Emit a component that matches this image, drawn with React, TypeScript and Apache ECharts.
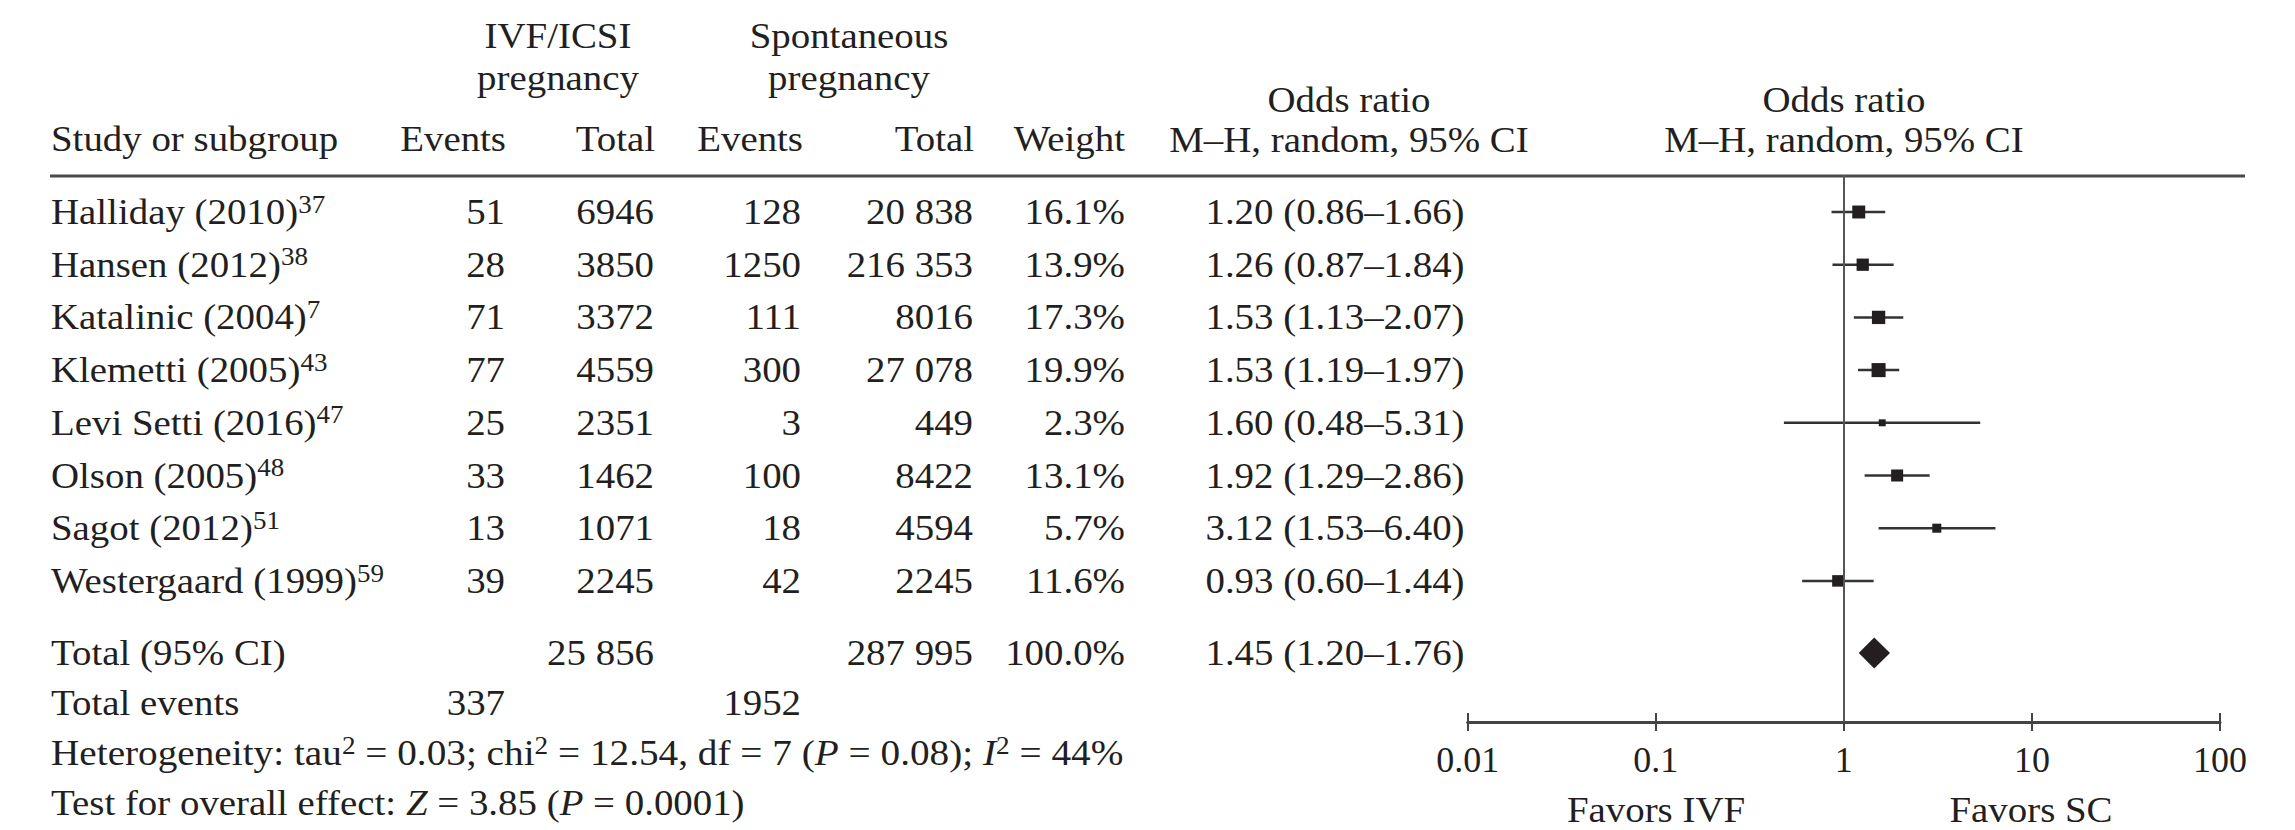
import React, { useEffect, useRef } from 'react';
import * as echarts from 'echarts';

// ---------------- data ----------------
const studies = [
  'Halliday (2010)',
  'Hansen (2012)',
  'Katalinic (2004)',
  'Klemetti (2005)',
  'Levi Setti (2016)',
  'Olson (2005)',
  'Sagot (2012)',
  'Westergaard (1999)',
];
const refs = ['37', '38', '7', '43', '47', '48', '51', '59'];
const ivfEvents = [51, 28, 71, 77, 25, 33, 13, 39];
const ivfTotal = [6946, 3850, 3372, 4559, 2351, 1462, 1071, 2245];
const scEvents = [128, 1250, 111, 300, 3, 100, 18, 42];
const scTotal = [20838, 216353, 8016, 27078, 449, 8422, 4594, 2245];
const weights = [16.1, 13.9, 17.3, 19.9, 2.3, 13.1, 5.7, 11.6];
const oddsRatio = [1.2, 1.26, 1.53, 1.53, 1.6, 1.92, 3.12, 0.93];
const ciLow = [0.86, 0.87, 1.13, 1.19, 0.48, 1.29, 1.53, 0.6];
const ciHigh = [1.66, 1.84, 2.07, 1.97, 5.31, 2.86, 6.4, 1.44];

const totalIvf = 25856;
const totalSc = 287995;
const totalWeight = 100.0;
const totalOR = [1.45, 1.2, 1.76]; // estimate, low, high
const totalEvents = [337, 1952]; // IVF, spontaneous
const axisTicks = [0.01, 0.1, 1, 10, 100];

// ---------------- layout ----------------
const W = 2295;
const H = 830;
const FONT = "'Liberation Serif', 'Times New Roman', serif";
const INK = '#231f20';
const FS = 36;
const SX = 1.08; // horizontal stretch to match the reference typeface width
const ROW0_Y = 212;
const ROW_PITCH = 52.7;
const TOTAL_ROW = 8.37;
const EVENTS_ROW = 9.32;
const PLOT_TOP = 175;
const PLOT_AXIS_Y = 722;
const PLOT_LEFT = 1467.7;
const PLOT_RIGHT = 2220;
const COL = {
  name: 51,
  ivfEvents: 505,
  ivfTotal: 654,
  scEvents: 801,
  scTotal: 973,
  weight: 1125,
  or: 1335,
};

function fmtCount(n: number): string {
  const s = String(n);
  return s.length > 4 ? s.replace(/\B(?=(\d{3})+(?!\d))/g, ' ') : s;
}
function fmtOR(e: number, l: number, h: number): string {
  return `${e.toFixed(2)} (${l.toFixed(2)}–${h.toFixed(2)})`;
}

type Cell = { x: number; row: number; text: string; align: string };

function buildCells(): Cell[] {
  const cells: Cell[] = [];
  studies.forEach((s, i) => {
    cells.push({ x: COL.name, row: i, text: `${s}{sup|${refs[i]}}`, align: 'left' });
    cells.push({ x: COL.ivfEvents, row: i, text: fmtCount(ivfEvents[i]), align: 'right' });
    cells.push({ x: COL.ivfTotal, row: i, text: fmtCount(ivfTotal[i]), align: 'right' });
    cells.push({ x: COL.scEvents, row: i, text: fmtCount(scEvents[i]), align: 'right' });
    cells.push({ x: COL.scTotal, row: i, text: fmtCount(scTotal[i]), align: 'right' });
    cells.push({ x: COL.weight, row: i, text: `${weights[i].toFixed(1)}%`, align: 'right' });
    cells.push({ x: COL.or, row: i, text: fmtOR(oddsRatio[i], ciLow[i], ciHigh[i]), align: 'center' });
  });
  cells.push({ x: COL.name, row: TOTAL_ROW, text: 'Total (95% CI)', align: 'left' });
  cells.push({ x: COL.ivfTotal, row: TOTAL_ROW, text: fmtCount(totalIvf), align: 'right' });
  cells.push({ x: COL.scTotal, row: TOTAL_ROW, text: fmtCount(totalSc), align: 'right' });
  cells.push({ x: COL.weight, row: TOTAL_ROW, text: `${totalWeight.toFixed(1)}%`, align: 'right' });
  cells.push({ x: COL.or, row: TOTAL_ROW, text: fmtOR(totalOR[0], totalOR[1], totalOR[2]), align: 'center' });
  cells.push({ x: COL.name, row: EVENTS_ROW, text: 'Total events', align: 'left' });
  cells.push({ x: COL.ivfEvents, row: EVENTS_ROW, text: fmtCount(totalEvents[0]), align: 'right' });
  cells.push({ x: COL.scEvents, row: EVENTS_ROW, text: fmtCount(totalEvents[1]), align: 'right' });
  return cells;
}

const richStyles = {
  sup: { fontSize: 25, fontFamily: FONT, fill: INK, color: INK, verticalAlign: 'top', lineHeight: 24 },
  it: { fontSize: FS, fontFamily: FONT, fill: INK, color: INK, fontStyle: 'italic', lineHeight: 40 },
};

function headerText(text: string, x: number, y: number, align: string, lineHeight = 40, sx = SX) {
  return {
    type: 'text',
    x,
    y,
    scaleX: sx,
    silent: true,
    style: {
      text,
      align,
      verticalAlign: 'middle',
      fontFamily: FONT,
      fontSize: FS,
      lineHeight,
      fill: INK,
      rich: richStyles,
    },
  };
}

function buildOption() {
  const cells = buildCells();
  const forestData = studies.map((_, i) => [oddsRatio[i], ciLow[i], ciHigh[i], i, weights[i]]);

  const headers = [
    headerText('IVF/ICSI', 558, 36, 'center'),
    headerText('pregnancy', 558, 78, 'center'),
    headerText('Spontaneous', 849, 36, 'center'),
    headerText('pregnancy', 849, 78, 'center'),
    headerText('Study or subgroup', COL.name, 139, 'left'),
    headerText('Events', COL.ivfEvents + 1, 139, 'right'),
    headerText('Total', COL.ivfTotal + 1, 139, 'right'),
    headerText('Events', COL.scEvents + 2, 139, 'right'),
    headerText('Total', COL.scTotal + 1, 139, 'right'),
    headerText('Weight', COL.weight, 139, 'right'),
    headerText('Odds ratio', 1349, 100, 'center'),
    headerText('M–H, random, 95% CI', 1349, 140, 'center'),
    headerText('Odds ratio', 1844, 100, 'center'),
    headerText('M–H, random, 95% CI', 1844, 140, 'center'),
    headerText('Favors IVF', 1656, 810, 'center', 34),
    headerText('Favors SC', 2031, 810, 'center', 34),
    headerText(
      'Heterogeneity: tau{sup|2} = 0.03; chi{sup|2} = 12.54, df = 7 ({it|P} = 0.08); {it|I}{sup|2} = 44%',
      COL.name,
      753,
      'left',
      40,
      1.09
    ),
    headerText('Test for overall effect: {it|Z} = 3.85 ({it|P} = 0.0001)', COL.name, 803, 'left', 40, 1.08),
    {
      type: 'line',
      silent: true,
      shape: { x1: 50, y1: 176, x2: 2245, y2: 176 },
      style: { stroke: '#4a4a4a', lineWidth: 3 },
    },
  ];

  const tickFmt = (v: number) => String(Number(Number(v).toPrecision(6)));

  return {
    animation: false,
    backgroundColor: '#ffffff',
    textStyle: { fontFamily: FONT },
    grid: [
      { left: 0, top: 0, width: W, height: H, outerBoundsMode: 'none', containLabel: false },
      {
        left: PLOT_LEFT,
        top: PLOT_TOP,
        width: PLOT_RIGHT - PLOT_LEFT,
        height: PLOT_AXIS_Y - PLOT_TOP,
        outerBoundsMode: 'none',
        containLabel: false,
      },
    ],
    xAxis: [
      { gridIndex: 0, type: 'value', min: 0, max: W, show: false },
      {
        gridIndex: 1,
        type: 'log',
        logBase: 10,
        min: axisTicks[0],
        max: axisTicks[axisTicks.length - 1],
        position: 'bottom',
        axisLine: { show: true, onZero: false, lineStyle: { color: '#444', width: 3 } },
        axisTick: { show: false },
        splitLine: { show: false },
        axisLabel: {
          show: true,
          margin: 38,
          verticalAlign: 'middle',
          fontFamily: FONT,
          fontSize: FS,
          color: INK,
          formatter: tickFmt,
        },
      },
      {
        gridIndex: 1,
        type: 'log',
        logBase: 10,
        min: axisTicks[0],
        max: axisTicks[axisTicks.length - 1],
        position: 'bottom',
        offset: -9,
        axisLine: { show: false, onZero: false },
        axisTick: { show: true, length: 18, lineStyle: { color: '#444', width: 2 } },
        splitLine: { show: false },
        axisLabel: { show: false },
      },
    ],
    yAxis: [
      {
        gridIndex: 0,
        type: 'value',
        inverse: true,
        min: (0 - ROW0_Y) / ROW_PITCH,
        max: (H - ROW0_Y) / ROW_PITCH,
        show: false,
      },
      {
        gridIndex: 1,
        type: 'value',
        inverse: true,
        min: (PLOT_TOP - ROW0_Y) / ROW_PITCH,
        max: (PLOT_AXIS_Y - ROW0_Y) / ROW_PITCH,
        show: false,
      },
    ],
    graphic: headers,
    series: [
      {
        type: 'custom',
        name: 'table',
        xAxisIndex: 0,
        yAxisIndex: 0,
        silent: true,
        data: cells.map((c) => [c.x, c.row]),
        encode: { x: 0, y: 1 },
        renderItem: (params: any, api: any) => {
          const cell = cells[params.dataIndex];
          const p = api.coord([api.value(0), api.value(1)]);
          return {
            type: 'text',
            x: p[0],
            y: p[1],
            scaleX: SX,
            style: {
              text: cell.text,
              align: cell.align,
              verticalAlign: 'middle',
              fontFamily: FONT,
              fontSize: FS,
              lineHeight: 40,
              fill: INK,
              rich: richStyles,
            },
          };
        },
      },
      {
        type: 'custom',
        name: 'studies',
        xAxisIndex: 1,
        yAxisIndex: 1,
        silent: true,
        data: forestData,
        encode: { x: [0, 1, 2], y: 3 },
        renderItem: (params: any, api: any) => {
          const row = api.value(3);
          const c = api.coord([api.value(0), row]);
          const a = api.coord([api.value(1), row]);
          const b = api.coord([api.value(2), row]);
          const s = 3.3 + 2.41 * Math.sqrt(api.value(4));
          return {
            type: 'group',
            children: [
              {
                type: 'line',
                shape: { x1: a[0], y1: a[1], x2: b[0], y2: b[1] },
                style: { stroke: '#333', lineWidth: 2.5 },
              },
              {
                type: 'rect',
                shape: { x: c[0] - s / 2, y: c[1] - s / 2, width: s, height: s },
                style: { fill: INK },
              },
            ],
          };
        },
        markLine: {
          silent: true,
          symbol: 'none',
          label: { show: false },
          lineStyle: { color: '#555', width: 2, type: 'solid' },
          data: [{ xAxis: 1 }],
        },
      },
      {
        type: 'custom',
        name: 'total',
        xAxisIndex: 1,
        yAxisIndex: 1,
        silent: true,
        data: [[totalOR[0], totalOR[1], totalOR[2], TOTAL_ROW]],
        encode: { x: [0, 1, 2], y: 3 },
        renderItem: (params: any, api: any) => {
          const row = api.value(3);
          const c = api.coord([api.value(0), row]);
          const a = api.coord([api.value(1), row]);
          const b = api.coord([api.value(2), row]);
          const h = 15.5;
          return {
            type: 'polygon',
            shape: {
              points: [
                [a[0], a[1]],
                [c[0], c[1] - h],
                [b[0], b[1]],
                [c[0], c[1] + h],
              ],
            },
            style: { fill: INK },
          };
        },
      },
    ],
  };
}

export default function App() {
  const ref = useRef<HTMLDivElement>(null);
  useEffect(() => {
    document.body.style.margin = '0';
    if (!ref.current) return;
    const chart = echarts.init(ref.current, undefined, { renderer: 'svg' });
    chart.setOption(buildOption() as any);
    return () => {
      chart.dispose();
    };
  }, []);
  return <div ref={ref} style={{ width: W, height: H, background: '#fff' }} />;
}
